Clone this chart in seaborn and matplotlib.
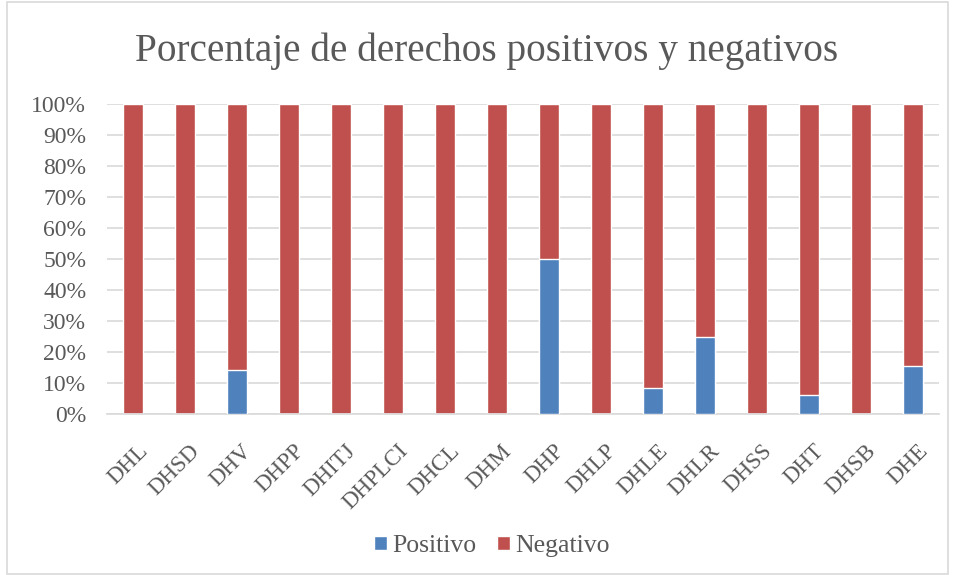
import matplotlib
matplotlib.use("Agg")
import matplotlib.pyplot as plt
import matplotlib.transforms as mtransforms
import seaborn as sns
import pandas as pd
from matplotlib.patches import Rectangle

categories = ["DHL", "DHSD", "DHV", "DHPP", "DHITJ", "DHPLCI", "DHCL", "DHM",
              "DHP", "DHLP", "DHLE", "DHLR", "DHSS", "DHT", "DHSB", "DHE"]
positivo = [0, 0, 14.3, 0, 0, 0, 0, 0, 50, 0, 8.3, 25, 0, 6.25, 0, 15.4]
negativo = [100, 100, 85.7, 100, 100, 100, 100, 100, 50, 100, 91.7, 75, 100, 93.75, 100, 84.6]
yticks = [0, 10, 20, 30, 40, 50, 60, 70, 80, 90, 100]

sns.set_theme(style="white")
plt.rcParams['font.family'] = ['Liberation Serif', 'DejaVu Serif']

df = pd.DataFrame({"cat": categories, "Positivo": positivo, "Negativo": negativo})
df["total"] = df["Positivo"] + df["Negativo"]

blue = "#4F81BD"
red = "#C0504D"
txt = "#595959"

fig = plt.figure(figsize=(9.55, 5.75), dpi=100)
ax = fig.add_axes([107/955, 1-414/575, (939-107)/955, (414-104)/575])

sns.barplot(data=df, x="cat", y="total", color=red, width=0.4, ax=ax,
            saturation=1, label="Negativo", zorder=2)
sns.barplot(data=df, x="cat", y="Positivo", color=blue, width=0.4, ax=ax,
            saturation=1, label="Positivo", zorder=3)
h, l = ax.get_legend_handles_labels()
if ax.get_legend() is not None:
    ax.get_legend().remove()

ax.set_ylim(0, 100)
ax.set_yticks(yticks)
ax.set_yticklabels([f"{v}%" for v in yticks], fontsize=17, color=txt)
ax.yaxis.grid(True, color="#D9D9D9", linewidth=1.2, zorder=0)
ax.set_axisbelow(True)
ax.set_xlabel("")
ax.set_ylabel("")
for s in ["top", "right", "left"]:
    ax.spines[s].set_visible(False)
ax.spines["bottom"].set_color("#D9D9D9")
ax.spines["bottom"].set_linewidth(1.2)
ax.tick_params(axis="y", length=0, pad=15)
ax.tick_params(axis="x", length=0, pad=19)
ax.set_xticks(range(len(categories)))
ax.set_xticklabels(categories, rotation=45, ha="right", rotation_mode="anchor",
                   fontsize=16.5, color=txt)
off = mtransforms.ScaledTranslation(3/72, 0, fig.dpi_scale_trans)
for lab in ax.get_xticklabels():
    lab.set_transform(lab.get_transform() + off)

fig.suptitle("Porcentaje de derechos positivos y negativos", fontsize=28.3,
             color=txt, x=487/955, y=1-51/575, va="center")

order = [l.index("Positivo"), l.index("Negativo")]
leg = fig.legend([h[i] for i in order], [l[i] for i in order], loc="center",
                 bbox_to_anchor=(492/955, 1-546/575), ncol=2, frameon=False,
                 fontsize=18.5, handlelength=0.5, handleheight=0.5,
                 handletextpad=0.2, columnspacing=0.8)
for t in leg.get_texts():
    t.set_color(txt)

fig.patches.append(Rectangle((7/955, 0.002), 941/955, 0.994, transform=fig.transFigure,
                             fill=False, edgecolor="#D9D9D9", linewidth=1.2))

fig.savefig("out.png", dpi=100)
